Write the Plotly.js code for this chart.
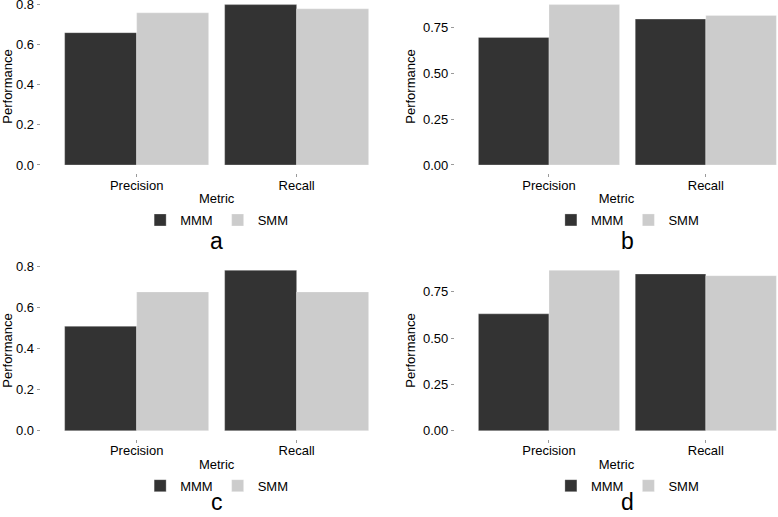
<!DOCTYPE html>
<html><head><meta charset="utf-8">
<script src="https://cdn.plot.ly/plotly-3.0.1.min.js"></script>
<style>html,body{margin:0;padding:0;background:#fff}</style>
</head><body><div id="chart" style="width:778px;height:517px"></div>
<script>
const categories = ['Precision', 'Recall'];
const seriesNames = ['MMM', 'SMM'];
const panelLetters = ['a', 'b', 'c', 'd'];
const mmmA = [0.660, 0.800];
const smmA = [0.759, 0.779];
const mmmB = [0.697, 0.797];
const smmB = [0.876, 0.817];
const mmmC = [0.507, 0.779];
const smmC = [0.674, 0.674];
const mmmD = [0.631, 0.846];
const smmD = [0.866, 0.837];
const ticksAC = [0, 0.2, 0.4, 0.6, 0.8];
const ticksBD = [0, 0.25, 0.5, 0.75];

const W = 778, H = 517;
const FONT = 'Liberation Sans, Arial, Helvetica, sans-serif';
const colors = ['#333333', '#cccccc'];
const plotH = 176.4;
const panels = [
  {mmm: mmmA, smm: smmA, ticks: ticksAC, fmt: '.1f', left: 40.65, right: 392.65, bottom: 173},
  {mmm: mmmB, smm: smmB, ticks: ticksBD, fmt: '.2f', left: 454.9, right: 799.9, bottom: 173},
  {mmm: mmmC, smm: smmC, ticks: ticksAC, fmt: '.1f', left: 40.65, right: 392.65, bottom: 438.7},
  {mmm: mmmD, smm: smmD, ticks: ticksBD, fmt: '.2f', left: 454.9, right: 799.9, bottom: 438.7}
];

function clipAxis(v0, v1, p0, p1, pmin, pmax) {
  const k = (v1 - v0) / (p1 - p0);
  const q0 = Math.max(p0, pmin), q1 = Math.min(p1, pmax);
  return {range: [v0 + (q0 - p0) * k, v0 + (q1 - p0) * k], px: [q0, q1]};
}

const data = [];
const layout = {
  width: W, height: H,
  margin: {l: 0, r: 0, t: 0, b: 0},
  paper_bgcolor: '#ffffff', plot_bgcolor: '#ffffff',
  font: {family: FONT, size: 13, color: '#000000'},
  barmode: 'group', bargap: 0.1, bargroupgap: 0,
  showlegend: true,
  annotations: []
};

panels.forEach((p, i) => {
  const sfx = i === 0 ? '' : String(i + 1);
  const xName = 'x' + sfx, yName = 'y' + sfx, legName = 'legend' + sfx;
  const series = [p.mmm, p.smm];
  series.forEach((vals, j) => {
    data.push({
      type: 'bar', x: categories, y: vals, name: seriesNames[j],
      xaxis: xName, yaxis: yName, legend: legName,
      marker: {color: colors[j], line: {color: 'rgba(255,255,255,0.35)', width: 0.8}},
      hoverinfo: 'x+y+name'
    });
  });
  const ymax = Math.max(...p.mmm, ...p.smm);
  const xc = clipAxis(-0.6, categories.length - 0.4, p.left, p.right, 0, W);
  const yc = clipAxis(-0.05 * ymax, 1.05 * ymax, H - p.bottom, H - p.bottom + plotH, 0, H);
  layout['xaxis' + sfx] = {
    domain: [xc.px[0] / W, xc.px[1] / W], range: xc.range, type: 'category',
    anchor: yName, showgrid: false, zeroline: false, showline: false,
    ticks: 'outside', ticklen: 3, tickwidth: 1, tickcolor: '#9a9a9a',
    ticklabelstandoff: -3,
    tickfont: {size: 13, color: '#000000'},
    title: {text: 'Metric', font: {size: 13, color: '#000000'}, standoff: 2},
    fixedrange: true
  };
  layout['yaxis' + sfx] = {
    domain: [yc.px[0] / H, yc.px[1] / H], range: yc.range,
    anchor: xName, showgrid: false, zeroline: false, showline: false,
    tickvals: p.ticks, tickformat: p.fmt, ticklabeloverflow: 'allow',
    ticks: 'outside', ticklen: 3, tickwidth: 1, tickcolor: '#9a9a9a',
    tickfont: {size: 13, color: '#000000'},
    title: {text: 'Performance', font: {size: 13, color: '#000000'}, standoff: 4},
    fixedrange: true
  };
  const cx = (p.left + p.right) / 2;
  layout[legName] = {
    orientation: 'h', x: cx / W, xanchor: 'center',
    y: 1 - (p.bottom + 47) / H, yanchor: 'middle',
    font: {size: 13, color: '#000000'}, bgcolor: 'rgba(0,0,0,0)',
    itemwidth: 30, traceorder: 'normal', itemclick: false, itemdoubleclick: false
  };
  layout.annotations.push({
    text: panelLetters[i], xref: 'paper', yref: 'paper',
    x: cx / W, y: 1 - Math.min(p.bottom + 83, H) / H, xanchor: 'center', yanchor: 'bottom',
    showarrow: false, font: {size: 23, color: '#000000', family: FONT}
  });
});

Plotly.newPlot('chart', data, layout, {displayModeBar: false});
</script>
</body></html>
